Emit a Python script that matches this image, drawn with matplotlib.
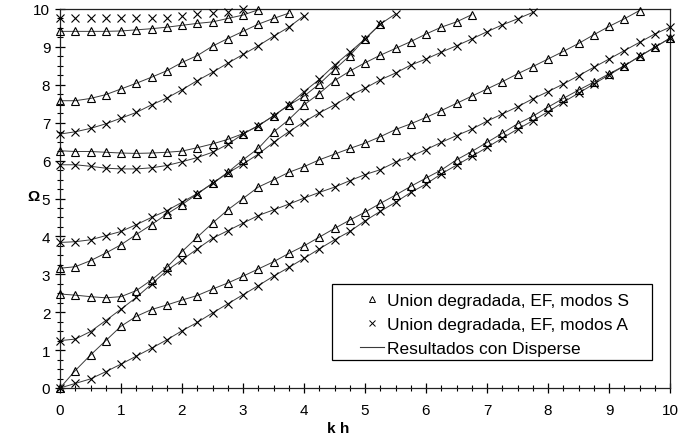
import matplotlib.pyplot as plt
import numpy as np
from matplotlib.lines import Line2D
from matplotlib.patches import Rectangle
from matplotlib.ticker import MultipleLocator

plt.rcParams['font.family'] = ['Liberation Sans', 'DejaVu Sans']

# kh step of the FE results
step = 0.25

# Symmetric modes (FE, triangles), Omega values from kh = 0
s0 = [0.00, 0.46, 0.87, 1.25, 1.63, 1.89, 2.07, 2.19, 2.32, 2.44, 2.61, 2.77, 2.95, 3.14,
      3.33, 3.55, 3.75, 3.98, 4.21, 4.43, 4.64, 4.87, 5.09, 5.32, 5.54, 5.75, 6.02, 6.24,
      6.48, 6.72, 6.97, 7.17, 7.41, 7.64, 7.86, 8.07, 8.29, 8.50, 8.75, 8.99, 9.23]
s1 = [2.48, 2.45, 2.41, 2.38, 2.41, 2.57, 2.85, 3.18, 3.60, 3.98, 4.35, 4.70, 5.00, 5.30,
      5.49, 5.69, 5.84, 6.02, 6.17, 6.32, 6.46, 6.63, 6.82, 6.97, 7.14, 7.32, 7.51, 7.70,
      7.89, 8.08, 8.29, 8.48, 8.68, 8.88, 9.09, 9.32, 9.54, 9.74, 9.96]
s2 = [3.16, 3.20, 3.36, 3.56, 3.78, 4.05, 4.31, 4.59, 4.84, 5.12, 5.40, 5.69, 6.02, 6.32,
      6.75, 7.08, 7.47, 7.77, 8.11, 8.36, 8.58, 8.78, 8.96, 9.14, 9.34, 9.52, 9.66, 9.85]
s3 = [6.26, 6.24, 6.24, 6.22, 6.20, 6.19, 6.20, 6.22, 6.25, 6.34, 6.44, 6.56, 6.71, 6.92,
      7.18, 7.46, 7.70, 8.02, 8.40, 8.77, 9.21, 9.60]
s4 = [7.58, 7.58, 7.64, 7.74, 7.89, 8.04, 8.20, 8.37, 8.59, 8.77, 9.02, 9.22, 9.41, 9.60,
      9.75, 9.89]
s5 = [9.41, 9.41, 9.41, 9.41, 9.42, 9.45, 9.48, 9.52, 9.57, 9.62, 9.66, 9.75, 9.84, 9.98]

# Antisymmetric modes (FE, crosses)
a0 = [0.00, 0.12, 0.24, 0.43, 0.63, 0.84, 1.05, 1.27, 1.51, 1.73, 1.98, 2.22, 2.46, 2.70,
      2.95, 3.18, 3.42, 3.67, 3.91, 4.13, 4.41, 4.66, 4.90, 5.16, 5.38, 5.65, 5.88, 6.11,
      6.35, 6.59, 6.83, 7.05, 7.29, 7.54, 7.78, 8.02, 8.26, 8.50, 8.75, 8.99, 9.23]
a1 = [1.25, 1.29, 1.49, 1.78, 2.08, 2.39, 2.74, 3.10, 3.38, 3.67, 3.95, 4.15, 4.35, 4.55,
      4.70, 4.85, 5.01, 5.16, 5.30, 5.47, 5.63, 5.76, 5.96, 6.11, 6.29, 6.48, 6.66, 6.83,
      7.04, 7.23, 7.42, 7.63, 7.82, 8.02, 8.24, 8.46, 8.68, 8.90, 9.12, 9.34, 9.52]
a2 = [3.84, 3.86, 3.91, 4.02, 4.13, 4.31, 4.50, 4.68, 4.90, 5.13, 5.40, 5.67, 5.91, 6.17,
      6.48, 6.76, 7.02, 7.26, 7.47, 7.71, 7.91, 8.13, 8.31, 8.52, 8.68, 8.86, 9.03, 9.21,
      9.40, 9.58, 9.74, 9.91]
a3 = [5.89, 5.89, 5.85, 5.80, 5.78, 5.78, 5.81, 5.87, 5.97, 6.08, 6.22, 6.43, 6.70, 6.92,
      7.18, 7.47, 7.82, 8.14, 8.52, 8.86, 9.21, 9.60, 9.87]
a4 = [6.70, 6.76, 6.85, 6.97, 7.12, 7.27, 7.47, 7.65, 7.87, 8.11, 8.33, 8.57, 8.80, 9.03,
      9.28, 9.52, 9.82]
a5 = [9.76, 9.76, 9.76, 9.76, 9.76, 9.76, 9.76, 9.76, 9.81, 9.86, 9.89, 9.93, 10.0]

s_modes = [s0, s1, s2, s3, s4, s5]
a_modes = [a0, a1, a2, a3, a4, a5]
# Disperse curves (thin line) exist for every mode except the top antisymmetric one
a_line = [True, True, True, True, True, False]

line_kw = dict(color='#3a3a3a', lw=0.7, zorder=2)

fig = plt.figure(figsize=(6.79, 4.39), dpi=100)
ax = fig.add_axes([60 / 679, 50 / 439, 610 / 679, 379 / 439])


def kh_of(vals):
    return np.arange(len(vals)) * step


for vals in s_modes:
    kh = kh_of(vals)
    ax.plot(kh, vals, **line_kw)
    ax.plot(kh, vals, ls='none', marker='^', ms=5.2, mfc='none', mec='black',
            mew=0.8, zorder=3, clip_on=False)

for vals, has_line in zip(a_modes, a_line):
    kh = kh_of(vals)
    if has_line:
        ax.plot(kh, vals, **line_kw)
    ax.plot(kh, vals, ls='none', marker='x', ms=5.2, mec='black', mew=0.8,
            zorder=3, clip_on=False)

ax.set_xlim(0, 10)
ax.set_ylim(0, 10)
ax.xaxis.set_major_locator(MultipleLocator(1))
ax.xaxis.set_minor_locator(MultipleLocator(0.25))
ax.yaxis.set_major_locator(MultipleLocator(1))
ax.yaxis.set_minor_locator(MultipleLocator(0.25))
ax.tick_params(which='major', direction='inout', length=7, width=0.9,
               labelsize=11, top=False, right=False)
ax.tick_params(axis='x', which='major', pad=7)
ax.tick_params(axis='y', which='major', pad=3.5)
ax.tick_params(which='minor', direction='inout', length=4.5, width=0.8,
               top=False, right=False)
for sp in ax.spines.values():
    sp.set_linewidth(0.9)
    sp.set_color('#222222')

ax.set_xlabel('k h', fontsize=11, fontweight='bold')
ax.xaxis.set_label_coords(0.456, -0.088)
ax.set_ylabel('Ω', fontsize=11, fontweight='bold', rotation=0, ha='center', va='center')
ax.yaxis.set_label_coords(-0.043, 0.507)

handles = [
    Line2D([], [], ls='none', marker='^', ms=4, mfc='none', mec='black', mew=0.7),
    Line2D([], [], ls='none', marker='x', ms=4, mec='black', mew=0.7),
    Line2D([], [], color='#3a3a3a', lw=0.8),
]
labels = ['Union degradada, EF, modos S',
          'Union degradada, EF, modos A',
          'Resultados con Disperse']
ax.legend(handles, labels, loc='upper left', bbox_to_anchor=(0.492, 0.252),
          borderaxespad=0, borderpad=0, frameon=False, fontsize=12.5,
          handlelength=1.4, handletextpad=0.15, labelspacing=0.52)
ax.add_patch(Rectangle((0.4459, 0.0739), 0.5246, 0.2005, transform=ax.transAxes,
                       fill=True, facecolor='white', edgecolor='black', lw=0.9, zorder=4))
ax.get_legend().set_zorder(5)

fig.savefig('out.png', dpi=100)
